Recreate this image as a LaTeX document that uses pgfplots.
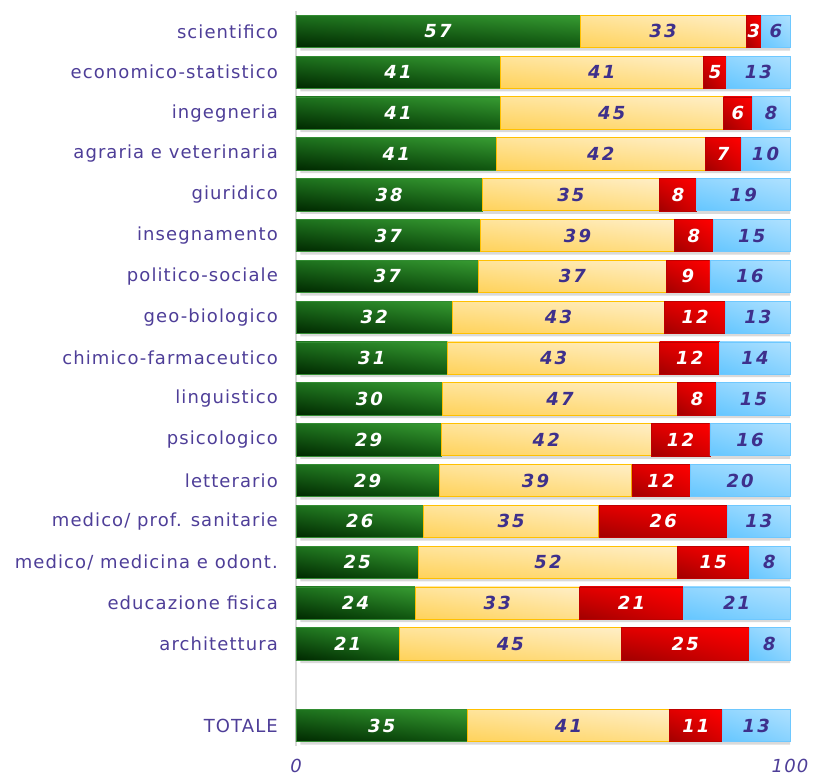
\documentclass[border=0pt]{standalone}
\usepackage{pgfplots}
\pgfplotsset{compat=1.18}
\usepackage{pgfplotstable}
\usetikzlibrary{shadings}
\usepackage{fontspec}
\setmainfont{DejaVu Sans}[LetterSpace=6]
\newfontfamily\numfont{DejaVu Sans}[LetterSpace=12]

\definecolor{labcol}{RGB}{78,62,152}
\definecolor{numcol}{RGB}{62,48,140}
\definecolor{gdark}{RGB}{0,40,0}
\definecolor{gul}{RGB}{30,115,30}
\definecolor{glr}{RGB}{15,85,15}
\definecolor{glight}{RGB}{55,155,50}
\definecolor{gedge}{RGB}{50,140,50}
\definecolor{ydark}{RGB}{255,210,90}
\definecolor{yul}{RGB}{255,228,155}
\definecolor{ylr}{RGB}{255,222,135}
\definecolor{ylight}{RGB}{255,238,198}
\definecolor{yedge}{RGB}{255,192,0}
\definecolor{rdark}{RGB}{160,0,0}
\definecolor{rul}{RGB}{225,0,0}
\definecolor{rlr}{RGB}{215,0,0}
\definecolor{rlight}{RGB}{255,0,0}
\definecolor{redge}{RGB}{190,0,0}
\definecolor{bdark}{RGB}{100,198,255}
\definecolor{bul}{RGB}{145,214,255}
\definecolor{blr}{RGB}{135,210,255}
\definecolor{blight}{RGB}{175,225,255}
\definecolor{bedge}{RGB}{110,200,255}
\definecolor{shadow}{RGB}{217,217,217}

\pgfplotstableread{
pos G Y R B lg ly lr lb
17 57.5 33.6 3.2 5.7 57 33 3 6
16 41.3 41.2 4.7 12.8 41 41 5 13
15 41.3 45.2 5.9 7.6 41 45 6 8
14 40.6 42.2 7.3 9.9 41 42 7 10
13 37.7 35.9 7.5 18.9 38 35 8 19
12 37.4 39.2 7.9 15.5 37 39 8 15
11 37.0 37.9 8.9 16.2 37 37 9 16
10 31.7 42.9 12.4 13.0 32 43 12 13
9 30.7 42.9 12.2 14.2 31 43 12 14
8 29.7 47.5 8.0 14.8 30 47 8 15
7 29.4 42.5 11.9 16.2 29 42 12 16
6 29.0 39.0 11.8 20.2 29 39 12 20
5 25.8 35.5 26.1 12.6 26 35 26 13
4 24.8 52.4 14.5 8.3 25 52 15 8
3 24.1 33.3 21.0 21.6 24 33 21 21
2 20.9 45.0 25.8 8.3 21 45 25 8
0 34.7 40.9 10.7 13.7 35 41 11 13
}\data

\pgfplotsset{
  common/.style={
    scale only axis, width=494pt, height=735pt,
    ymin=-0.5, ymax=17.5,
  },
  gseg/.style={draw=gedge, line width=0.6pt, lower left=gdark, upper left=gul, lower right=glr, upper right=glight},
  yseg/.style={draw=yedge, line width=0.9pt, lower left=ydark, upper left=yul, lower right=ylr, upper right=ylight},
  rseg/.style={draw=redge, line width=0.6pt, lower left=rdark, upper left=rul, lower right=rlr, upper right=rlight},
  bseg/.style={draw=bedge, line width=0.9pt, lower left=bdark, upper left=bul, lower right=blr, upper right=blight},
  lab/.style={draw=none, mark=none, nodes near coords, point meta=explicit symbolic, every node near coord/.append style={text=#1}},
}

\begin{document}
\begin{tikzpicture}
% shadows
\begin{axis}[common, hide axis, xmin=-0.9, xmax=99.1, xbar, bar width=0.79, bar shift=-3pt]
\addplot[fill=shadow, draw=none] table[x expr=\thisrow{G}+\thisrow{Y}+\thisrow{R}+\thisrow{B}, y=pos] \data;
\end{axis}
% bars
\begin{axis}[common, name=main, xmin=0, xmax=100, clip=false,
  axis x line*=bottom, axis y line*=left,
  x axis line style={draw=none},
  y axis line style={draw=shadow, line width=1.2pt, -},
  major tick length=0pt,
  xtick={0,100}, xticklabels={0,100},
  xticklabel style={font=\fontsize{18}{18}\selectfont\itshape, text=labcol, inner sep=0pt, anchor=north, yshift=-13pt},
  ytick={0,2,3,4,5,6,7,8,9,10,11,12,13,14,15,16,17},
  yticklabels={TOTALE, architettura, educazione fisica, medico/ medicina e odont., medico/ prof. sanitarie, letterario, psicologico, linguistico, chimico-farmaceutico, geo-biologico, politico-sociale, insegnamento, giuridico, agraria e veterinaria, ingegneria, economico-statistico, scientifico},
  yticklabel style={font=\fontsize{18}{18}\selectfont, text=labcol, inner sep=0pt, anchor=east, xshift=-18pt},
  every node near coord/.append style={anchor=center, inner sep=0pt, font=\numfont\fontsize{18}{18}\selectfont\bfseries\itshape},
]
\pgfplotsinvokeforeach{0,...,16}{%
  \pgfplotstablegetelem{#1}{pos}\of\data
  \pgfmathsetmacro\Plo{\pgfplotsretval-0.395}%
  \pgfmathsetmacro\Ptop{\pgfplotsretval+0.395}%
  \pgfplotstablegetelem{#1}{G}\of\data \pgfmathsetmacro\xa{\pgfplotsretval}%
  \pgfplotstablegetelem{#1}{Y}\of\data \pgfmathsetmacro\xb{\xa+\pgfplotsretval}%
  \pgfplotstablegetelem{#1}{R}\of\data \pgfmathsetmacro\xc{\xb+\pgfplotsretval}%
  \pgfplotstablegetelem{#1}{B}\of\data \pgfmathsetmacro\xd{\xc+\pgfplotsretval}%
  \edef\cmd{%
    \noexpand\addplot[gseg] coordinates {(0,\Plo) (\xa,\Plo) (\xa,\Ptop) (0,\Ptop)} -- cycle;
    \noexpand\addplot[yseg] coordinates {(\xa,\Plo) (\xb,\Plo) (\xb,\Ptop) (\xa,\Ptop)} -- cycle;
    \noexpand\addplot[rseg] coordinates {(\xb,\Plo) (\xc,\Plo) (\xc,\Ptop) (\xb,\Ptop)} -- cycle;
    \noexpand\addplot[bseg] coordinates {(\xc,\Plo) (\xd,\Plo) (\xd,\Ptop) (\xc,\Ptop)} -- cycle;
  }\cmd
}
\addplot[lab=white] table[x expr=\thisrow{G}/2, y=pos, meta=lg] \data;
\addplot[lab=numcol] table[x expr=\thisrow{G}+\thisrow{Y}/2, y=pos, meta=ly] \data;
\addplot[lab=white] table[x expr=\thisrow{G}+\thisrow{Y}+\thisrow{R}/2, y=pos, meta=lr] \data;
\addplot[lab=numcol] table[x expr=\thisrow{G}+\thisrow{Y}+\thisrow{R}+\thisrow{B}/2, y=pos, meta=lb] \data;
\end{axis}
\pgfresetboundingbox
\path ([shift={(-296pt,-30pt)}]main.south west) rectangle ([shift={(25pt,11pt)}]main.north east);
\end{tikzpicture}
\end{document}
